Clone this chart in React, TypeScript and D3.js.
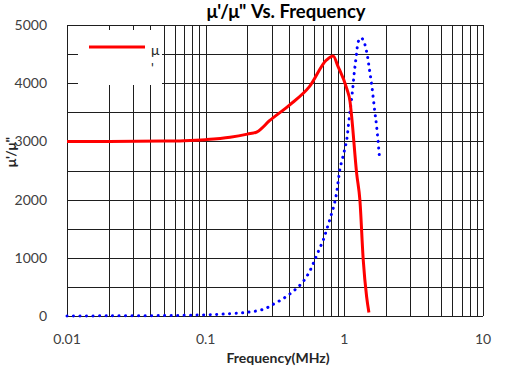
import React from "react";
import * as d3 from "d3";

const muRealFreq = [0.01, 0.02, 0.05, 0.07, 0.1, 0.15, 0.2, 0.235, 0.29, 0.4, 0.56, 0.745, 0.83, 0.9, 1.04, 1.1, 1.13, 1.227, 1.295, 1.369, 1.448, 1.504];
const muRealVal = [3000, 3000, 3005, 3012, 3030, 3070, 3125, 3165, 3360, 3620, 3940, 4400, 4467, 4290, 3910, 3680, 3420, 2450, 1990, 960, 330, 60];

const muImagFreq = [0.01, 0.02, 0.05, 0.1, 0.15, 0.2, 0.26, 0.31, 0.371, 0.433, 0.5, 0.559, 0.607, 0.656, 0.709, 0.753, 0.8, 0.846, 0.88, 0.904, 0.929, 0.982, 1.04, 1.074, 1.11, 1.147, 1.178, 1.218, 1.268, 1.318, 1.368, 1.448, 1.513, 1.581, 1.653, 1.71, 1.8];
const muImagVal = [0, 3, 8, 20, 40, 64, 115, 206, 315, 435, 579, 756, 945, 1134, 1323, 1517, 1718, 1919, 2119, 2320, 2521, 2760, 3024, 3311, 3596, 3883, 4170, 4455, 4730, 4780, 4742, 4541, 4256, 3940, 3540, 3253, 2680];

const xTickLabels = ["0.01", "0.1", "1", "10"];
const xTickValues = [0.01, 0.1, 1, 10];
const yTickValues = [0, 1000, 2000, 3000, 4000, 5000];

const FONT = "Lato, 'Open Sans', sans-serif";

export default function App() {
  const left = 67, right = 483, top = 25, bottom = 316;
  const x = d3.scaleLog().domain([0.01, 10]).range([left, right]);
  const y = d3.scaleLinear().domain([0, 5000]).range([bottom, top]);

  const minorX: number[] = [];
  for (const dec of [0.01, 0.1, 1]) {
    for (let k = 1; k <= 10; k++) minorX.push(dec * k);
  }
  const gridY = d3.range(0, 5001, 500);

  const line = d3
    .line<[number, number]>()
    .x((d) => x(d[0]))
    .y((d) => y(d[1]))
    .curve(d3.curveMonotoneX);

  const realPts: [number, number][] = muRealFreq.map((f, i) => [f, muRealVal[i]]);
  const imagPts: [number, number][] = muImagFreq.map((f, i) => [f, muImagVal[i]]);
  const imagLine = d3
    .line<[number, number]>()
    .x((d) => x(d[0]))
    .y((d) => y(d[1]))
    .curve(d3.curveCatmullRom.alpha(0.5));

  const px = (v: number) => Math.round(v) + 0.5;

  return (
    <svg width={513} height={377} style={{ position: "absolute", left: 0, top: 0, background: "#fff" }}>
      <rect x={0} y={0} width={513} height={377} fill="#fff" />
      <g stroke="#1e1e1e" strokeWidth={1}>
        {minorX.map((f, i) => (
          <line key={"vx" + i} x1={px(x(f))} x2={px(x(f))} y1={top} y2={bottom} />
        ))}
        {gridY.map((v, i) => (
          <line key={"hy" + i} x1={left} x2={right} y1={px(y(v))} y2={px(y(v))} />
        ))}
        <line x1={px(left)} x2={px(left)} y1={top} y2={bottom} />
      </g>
      {/* legend */}
      <rect x={78} y={30} width={84} height={55} fill="#fff" />
      <line x1={89} x2={145} y1={47} y2={47} stroke="#ff0000" strokeWidth={3} />
      <text x={151} y={55} fontFamily={FONT} fontSize={14} fill="#262626">μ</text>
      <text x={151} y={73} fontFamily={FONT} fontSize={14} fill="#262626">'</text>

      <path d={imagLine(imagPts) || ""} fill="none" stroke="#0000ff" strokeWidth={3} strokeLinecap="round" strokeDasharray="0.1 6.4" />
      <path d={line(realPts) || ""} fill="none" stroke="#ff0000" strokeWidth={3} strokeLinejoin="round" />

      {yTickValues.map((v) => (
        <text key={"yt" + v} x={47} y={y(v) + 5} textAnchor="end" fontFamily={FONT} fontSize={14} fill="#404040">
          {v}
        </text>
      ))}
      {xTickValues.map((v, i) => (
        <text key={"xt" + v} x={x(v)} y={344} textAnchor="middle" fontFamily={FONT} fontSize={14} fill="#404040">
          {xTickLabels[i]}
        </text>
      ))}
      <text x={278} y={363} textAnchor="middle" fontFamily={FONT} fontSize={14} fontWeight="bold" fill="#262626">
        Frequency(MHz)
      </text>
      <text x={286} y={18} textAnchor="middle" fontFamily={FONT} fontSize={18.5} fontWeight="bold" fill="#000">
        μ'/μ" Vs. Frequency
      </text>
      <text transform="translate(16,152) rotate(-90)" textAnchor="middle" fontFamily={FONT} fontSize={14} fontWeight="bold" fill="#262626">
        μ'/μ"
      </text>
    </svg>
  );
}
